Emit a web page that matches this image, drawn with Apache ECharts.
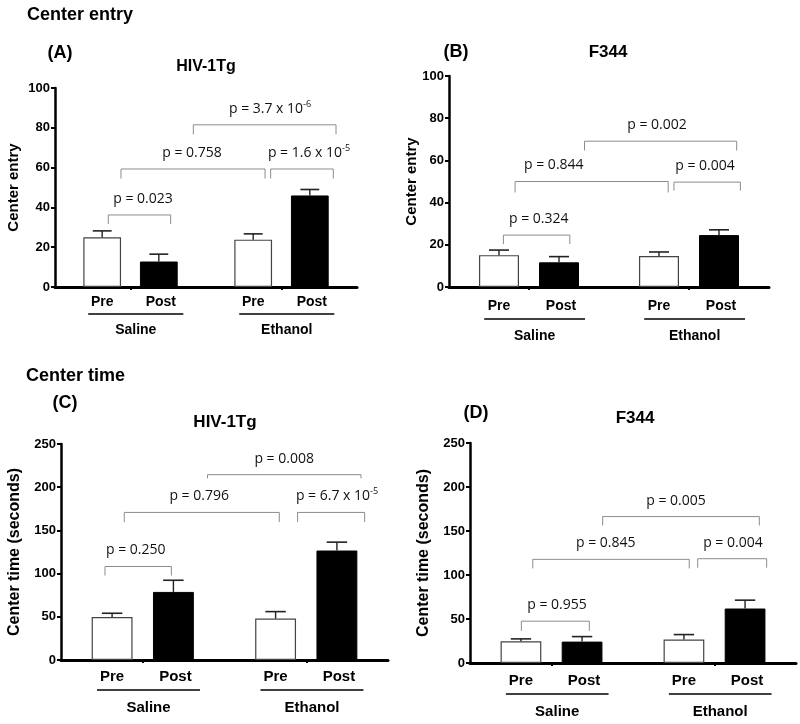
<!DOCTYPE html>
<html>
<head>
<meta charset="utf-8">
<script src="https://cdn.jsdelivr.net/npm/echarts@6/dist/echarts.min.js"></script>
<style>
html,body{margin:0;padding:0;background:#fff;}
#chart{width:800px;height:724px;}
</style>
</head>
<body>
<div id="chart"></div>
<script>
// ---------------- data ----------------
const groups = ['Saline', 'Ethanol'];
const conditions = ['Pre', 'Post'];

// Center entry – HIV-1Tg
const hivEntryPre = [25.0, 23.8];
const hivEntryPreSem = [3.2, 2.9];
const hivEntryPost = [12.8, 46.0];
const hivEntryPostSem = [3.7, 3.0];

// Center entry – F344
const f344EntryPre = [15.1, 14.7];
const f344EntryPreSem = [2.4, 1.9];
const f344EntryPost = [11.7, 24.6];
const f344EntryPostSem = [2.7, 2.5];

// Center time – HIV-1Tg
const hivTimePre = [49.8, 47.9];
const hivTimePreSem = [4.3, 8.1];
const hivTimePost = [78.8, 126.7];
const hivTimePostSem = [13.5, 9.7];

// Center time – F344
const f344TimePre = [24.7, 26.6];
const f344TimePreSem = [2.7, 5.7];
const f344TimePost = [24.3, 61.9];
const f344TimePostSem = [5.7, 9.5];

// axis ranges
const entryAxis = {max: 100, interval: 20};
const timeAxis = {max: 250, interval: 50};

// significance brackets: [from, to, lineValue, legEndValue, labelAt, text, superscript]
// from/to/labelAt in category units (0 = Saline, 1 = Ethanol)
const hivEntryBrackets = [
  [-0.147, 0.266, 36.2, 31.7, 0.083, 'p = 0.023', ''],
  [-0.063, 0.891, 59.3, 54.5, 0.407, 'p = 0.758', ''],
  [0.928, 1.343, 59.3, 54.5, 1.182, 'p = 1.6 x 10', '-5'],
  [0.416, 1.361, 81.5, 76.7, 0.924, 'p = 3.7 x 10', '-6']
];
const f344EntryBrackets = [
  [-0.160, 0.255, 24.6, 20.3, 0.061, 'p = 0.324', ''],
  [-0.087, 0.870, 50.0, 44.8, 0.155, 'p = 0.844', ''],
  [0.906, 1.321, 49.7, 45.7, 1.100, 'p = 0.004', ''],
  [0.347, 1.298, 69.1, 64.7, 0.800, 'p = 0.002', '']
];
const hivTimeBrackets = [
  [-0.231, 0.175, 108.2, 97.8, -0.043, 'p = 0.250', ''],
  [-0.113, 0.835, 170.8, 159.6, 0.345, 'p = 0.796', ''],
  [0.947, 1.357, 170.8, 159.6, 1.188, 'p = 6.7 x 10', '-5'],
  [0.396, 1.335, 214.5, 210.2, 0.865, 'p = 0.008', '']
];
const f344TimeBrackets = [
  [-0.185, 0.232, 47.5, 36.5, 0.034, 'p = 0.955', ''],
  [-0.115, 0.845, 117.8, 107.5, 0.333, 'p = 0.845', ''],
  [0.897, 1.320, 118.5, 108.3, 1.113, 'p = 0.004', ''],
  [0.314, 1.275, 166.4, 156.2, 0.764, 'p = 0.005', '']
];

// ---------------- layout / style ----------------
const SANS = '"Liberation Sans", Arial, Helvetica, sans-serif';
const PFONT = '"Open Sans", "Liberation Sans", sans-serif';

const panels = [
  {grid: {left: 55, top: 88, width: 302, height: 199}, axis: entryAxis, yName: 'Center entry', nameSize: 15, nameGap: 34,
   pre: hivEntryPre, preSem: hivEntryPreSem, post: hivEntryPost, postSem: hivEntryPostSem, brackets: hivEntryBrackets,
   catSize: 14, offs: [15, 27, 43]},
  {grid: {left: 449, top: 76, width: 320, height: 211}, axis: entryAxis, yName: 'Center entry', nameSize: 15, nameGap: 30,
   pre: f344EntryPre, preSem: f344EntryPreSem, post: f344EntryPost, postSem: f344EntryPostSem, brackets: f344EntryBrackets,
   catSize: 14, offs: [19, 32, 49]},
  {grid: {left: 61, top: 444, width: 327, height: 216}, axis: timeAxis, yName: 'Center time (seconds)', nameSize: 16, nameGap: 38,
   pre: hivTimePre, preSem: hivTimePreSem, post: hivTimePost, postSem: hivTimePostSem, brackets: hivTimeBrackets,
   catSize: 15, offs: [17, 30, 48]},
  {grid: {left: 470, top: 443, width: 326, height: 220}, axis: timeAxis, yName: 'Center time (seconds)', nameSize: 16, nameGap: 38,
   pre: f344TimePre, preSem: f344TimePreSem, post: f344TimePost, postSem: f344TimePostSem, brackets: f344TimeBrackets,
   catSize: 15, offs: [18, 31, 49]}
];

const BAR_W = 0.25;          // fraction of band
const BAR_OFF = 0.1875;      // bar center offset from category center (band units)

const headings = [
  {text: 'Center entry', x: 27, y: 15, size: 18, align: 'left'},
  {text: 'Center time', x: 26, y: 376, size: 18, align: 'left'},
  {text: '(A)', x: 60, y: 53, size: 18, align: 'center'},
  {text: 'HIV-1Tg', x: 206, y: 67, size: 16, align: 'center'},
  {text: '(B)', x: 456, y: 52, size: 18, align: 'center'},
  {text: 'F344', x: 608, y: 52, size: 17, align: 'center'},
  {text: '(C)', x: 65, y: 403, size: 18, align: 'center'},
  {text: 'HIV-1Tg', x: 225, y: 422, size: 17, align: 'center'},
  {text: '(D)', x: 476, y: 413, size: 18, align: 'center'},
  {text: 'F344', x: 635, y: 418, size: 17, align: 'center'}
];

// ---------------- build option ----------------
const grids = [], xAxes = [], yAxes = [], series = [];

panels.forEach((p, i) => {
  grids.push(Object.assign({outerBoundsMode: 'none', containLabel: false}, p.grid));
  xAxes.push({
    gridIndex: i, type: 'category', data: groups,
    axisLine: {show: true, lineStyle: {color: '#000', width: 3}},
    axisTick: {show: true, alignWithLabel: true, length: 3, lineStyle: {color: '#000', width: 2}},
    axisLabel: {show: false},
    splitLine: {show: false}
  });
  yAxes.push({
    gridIndex: i, type: 'value', min: 0, max: p.axis.max, interval: p.axis.interval,
    name: p.yName, nameLocation: 'middle', nameGap: p.nameGap, nameRotate: 90, nameMoveOverlap: false,
    nameTextStyle: {fontFamily: SANS, fontWeight: 'bold', fontSize: p.nameSize, color: '#000'},
    axisLine: {show: true, lineStyle: {color: '#000', width: 2.5}},
    axisTick: {show: true, length: 4, lineStyle: {color: '#000', width: 2}},
    axisLabel: {show: true, fontFamily: SANS, fontWeight: 'bold', fontSize: 13, color: '#000', margin: 5},
    splitLine: {show: false}
  });

  // bars
  series.push({
    type: 'bar', name: conditions[0], xAxisIndex: i, yAxisIndex: i, data: p.pre,
    barWidth: (BAR_W * 100) + '%', barGap: '50%', silent: true,
    itemStyle: {color: '#fff', borderColor: '#444', borderWidth: 1.2}
  });
  series.push({
    type: 'bar', name: conditions[1], xAxisIndex: i, yAxisIndex: i, data: p.post,
    barWidth: (BAR_W * 100) + '%', barGap: '50%', silent: true,
    itemStyle: {color: '#000', borderColor: '#000', borderWidth: 1}
  });

  // error bars (upper only)
  const errData = [];
  groups.forEach((g, gi) => {
    errData.push([gi, p.pre[gi], p.preSem[gi], 0]);
    errData.push([gi, p.post[gi], p.postSem[gi], 1]);
  });
  series.push({
    type: 'custom', xAxisIndex: i, yAxisIndex: i, data: errData, clip: false, silent: true, z: 3,
    encode: {x: 0, y: 1},
    renderItem: function (params, api) {
      const gi = api.value(0), mean = api.value(1), sem = api.value(2), c = api.value(3);
      const band = api.size([1, 0])[0];
      const p0 = api.coord([gi, mean]);
      const p1 = api.coord([gi, mean + sem]);
      const x = p0[0] + (c === 0 ? -1 : 1) * BAR_OFF * band;
      const half = BAR_W * band / 4;
      return {type: 'group', children: [
        {type: 'line', shape: {x1: x, y1: p0[1], x2: x, y2: p1[1]}, style: {stroke: '#222', lineWidth: 1.4}},
        {type: 'line', shape: {x1: x - half, y1: p1[1], x2: x + half, y2: p1[1]}, style: {stroke: '#222', lineWidth: 1.6}}
      ]};
    }
  });

  // brackets
  const br = p.brackets;
  series.push({
    type: 'custom', xAxisIndex: i, yAxisIndex: i, clip: false, silent: true, z: 4,
    data: br.map(b => [0, b[2], b[0], b[1], b[3], b[4]]),
    encode: {x: 0, y: 1},
    renderItem: function (params, api) {
      const base = api.coord([0, api.value(1)]);
      const band = api.size([1, 0])[0];
      const legY = api.coord([0, api.value(4)])[1];
      const x1 = base[0] + api.value(2) * band;
      const x2 = base[0] + api.value(3) * band;
      const lx = base[0] + api.value(5) * band;
      const y = base[1];
      const b = br[params.dataIndex];
      const txt = '{n|' + b[5] + '}' + (b[6] ? '{s|' + b[6] + '}' : '');
      return {type: 'group', children: [
        {type: 'polyline', shape: {points: [[x1, legY], [x1, y], [x2, y], [x2, legY]]},
         style: {stroke: '#8c8c8c', lineWidth: 1, fill: null}},
        {type: 'text', x: lx, y: y - 16, style: {
          text: txt, align: 'center', verticalAlign: 'middle', fill: '#111',
          rich: {
            n: {fontFamily: PFONT, fontSize: 14, lineHeight: 18, fill: '#111'},
            s: {fontFamily: PFONT, fontSize: 9, lineHeight: 9, verticalAlign: 'top', fill: '#111'}
          }
        }}
      ]};
    }
  });

  // Pre/Post labels, underline and group labels
  series.push({
    type: 'custom', xAxisIndex: i, yAxisIndex: i, clip: false, silent: true, z: 4,
    data: groups.map((g, gi) => [gi, 0]),
    encode: {x: 0, y: 1},
    renderItem: function (params, api) {
      const c = api.coord([api.value(0), 0]);
      const band = api.size([1, 0])[0];
      const font = 'bold ' + p.catSize + 'px ' + SANS;
      const o = p.offs;
      return {type: 'group', children: [
        {type: 'text', x: c[0] - BAR_OFF * band, y: c[1] + o[0],
         style: {text: conditions[0], font: font, fill: '#000', align: 'center', verticalAlign: 'middle'}},
        {type: 'text', x: c[0] + BAR_OFF * band + 2, y: c[1] + o[0],
         style: {text: conditions[1], font: font, fill: '#000', align: 'center', verticalAlign: 'middle'}},
        {type: 'line', shape: {x1: c[0] - 0.28 * band, y1: c[1] + o[1], x2: c[0] + 0.35 * band, y2: c[1] + o[1]},
         style: {stroke: '#000', lineWidth: 1.5}},
        {type: 'text', x: c[0] + 0.035 * band, y: c[1] + o[2],
         style: {text: groups[params.dataIndex], font: font, fill: '#000', align: 'center', verticalAlign: 'middle'}}
      ]};
    }
  });
});

const option = {
  animation: false,
  backgroundColor: '#fff',
  textStyle: {fontFamily: SANS},
  grid: grids,
  xAxis: xAxes,
  yAxis: yAxes,
  series: series,
  graphic: headings.map(h => ({
    type: 'text', x: h.x, y: h.y, silent: true,
    style: {text: h.text, font: 'bold ' + h.size + 'px ' + SANS, fill: '#000', align: h.align, verticalAlign: 'middle'}
  }))
};

const chart = echarts.init(document.getElementById('chart'), null, {renderer: 'canvas'});
chart.setOption(option);
</script>
</body>
</html>
